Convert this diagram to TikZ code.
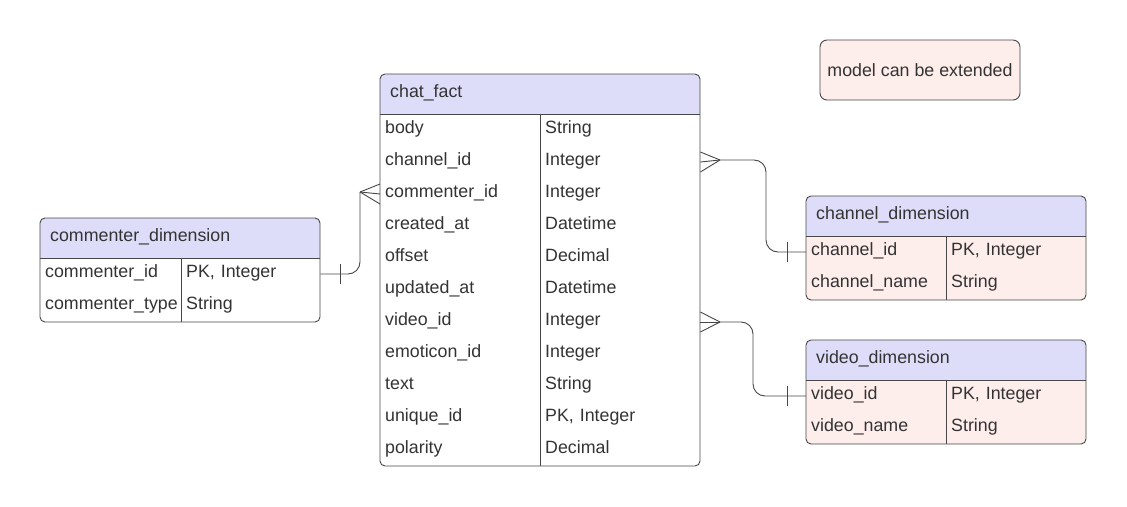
\documentclass[tikz,border=0pt]{standalone}
\usepackage{fontspec}
\setmainfont{Liberation Sans}
\definecolor{hdr}{HTML}{DDDDF9}
\definecolor{rowpink}{HTML}{FDEDEB}
\definecolor{edge}{HTML}{474747}
\definecolor{txt}{HTML}{333333}
\tikzset{
  tfont/.style={font=\fontsize{17.8}{20}\selectfont, text=txt},
  cell/.style={tfont, inner xsep=5pt, inner ysep=0pt, minimum height=32pt, text height=12pt, text depth=4.5pt, text width=#1, align=left, anchor=west},
  htext/.style={tfont, inner sep=0pt, text height=12pt, text depth=4.5pt, anchor=west},
  border/.style={draw=edge, line width=0.9pt},
  conn/.style={draw=edge, line width=0.9pt},
}
\begin{document}
\begin{tikzpicture}[x=1pt,y=-1pt]
\useasboundingbox (0,0) rectangle (1127,506);
\fill[white] (0,0) rectangle (1127,506);

% ---------- chat_fact ----------
\fill[hdr] (380,114) [rounded corners=5pt] -- (380,74) -- (700,74) [sharp corners] -- (700,114) -- cycle;
\draw[border, rounded corners=5pt] (380,74) rectangle (700,466);
\draw[border] (380,114) -- (700,114);
\draw[border] (540,114) -- (540,466);
\node[htext] (cf) at (390,94) {chat\_fact};
\foreach \i/\a/\b in {1/body/String, 2/channel\_id/Integer, 3/commenter\_id/Integer, 4/created\_at/Datetime, 5/offset/Decimal, 6/updated\_at/Datetime, 7/video\_id/Integer, 8/emoticon\_id/Integer, 9/text/String, 10/unique\_id/{PK, Integer}, 11/polarity/Decimal}{
  \node[cell=150pt] (cfl\i) at (380,{114+32*\i-16}) {\a};
  \node[cell=150pt] (cfr\i) at (540,{114+32*\i-16}) {\b};
}

% ---------- commenter_dimension ----------
\fill[hdr] (40,258) [rounded corners=5pt] -- (40,218) -- (320,218) [sharp corners] -- (320,258) -- cycle;
\draw[border, rounded corners=5pt] (40,218) rectangle (320,322);
\draw[border] (40,258) -- (320,258);
\draw[border] (181,258) -- (181,322);
\node[htext] (cd) at (50,238) {commenter\_dimension};
\node[cell=131pt] (cdl1) at (40,274) {commenter\_id};
\node[cell=129pt] (cdr1) at (181,274) {PK, Integer};
\node[cell=131pt] (cdl2) at (40,306) {commenter\_type};
\node[cell=129pt] (cdr2) at (181,306) {String};

% ---------- channel_dimension ----------
\fill[hdr] (806,236) [rounded corners=5pt] -- (806,196) -- (1086,196) [sharp corners] -- (1086,236) -- cycle;
\fill[rowpink] (806,236) [rounded corners=5pt] -- (806,300) -- (1086,300) [sharp corners] -- (1086,236) -- cycle;
\draw[border, rounded corners=5pt] (806,196) rectangle (1086,300);
\draw[border] (806,236) -- (1086,236);
\draw[border] (946,236) -- (946,300);
\node[htext] (ch) at (816,216) {channel\_dimension};
\node[cell=130pt] (chl1) at (806,252) {channel\_id};
\node[cell=130pt] (chr1) at (946,252) {PK, Integer};
\node[cell=130pt] (chl2) at (806,284) {channel\_name};
\node[cell=130pt] (chr2) at (946,284) {String};

% ---------- video_dimension ----------
\fill[hdr] (806,380) [rounded corners=5pt] -- (806,340) -- (1086,340) [sharp corners] -- (1086,380) -- cycle;
\fill[rowpink] (806,380) [rounded corners=5pt] -- (806,444) -- (1086,444) [sharp corners] -- (1086,380) -- cycle;
\draw[border, rounded corners=5pt] (806,340) rectangle (1086,444);
\draw[border] (806,380) -- (1086,380);
\draw[border] (946,380) -- (946,444);
\node[htext] (vd) at (816,360) {video\_dimension};
\node[cell=130pt] (vdl1) at (806,396) {video\_id};
\node[cell=130pt] (vdr1) at (946,396) {PK, Integer};
\node[cell=130pt] (vdl2) at (806,428) {video\_name};
\node[cell=130pt] (vdr2) at (946,428) {String};

% ---------- note ----------
\node[tfont, draw=edge, line width=0.9pt, fill=rowpink, rounded corners=7pt, minimum width=200pt, minimum height=60pt, inner sep=0pt] (note) at (920,70) {model can be extended};

% ---------- connectors ----------
% commenter_dimension -> chat_fact
\coordinate (k1) at (360,192);
\draw[conn, rounded corners=12pt] (cdr1.east) -| (k1);
\draw[conn] (k1) -- (cfl3.west);
\draw[conn] (k1) -- ([yshift=-10pt]cfl3.west);
\draw[conn] (k1) -- ([yshift=10pt]cfl3.west);
\draw[conn] (340,264) -- (340,284);

% chat_fact -> channel_dimension
\coordinate (k2) at (720,160);
\draw[conn] (k2) -- (cfr2.east);
\draw[conn] (k2) -- ([yshift=-10pt]cfr2.east);
\draw[conn] (k2) -- ([yshift=10pt]cfr2.east);
\draw[conn, rounded corners=12pt] (k2) -| (766,252) -- (chl1.west);
\draw[conn] (787,242) -- (787,262);

% chat_fact -> video_dimension
\coordinate (k3) at (720,322);
\draw[conn] (k3) -- (cfr7.east);
\draw[conn] (k3) -- ([yshift=-10pt]cfr7.east);
\draw[conn] (k3) -- ([yshift=10pt]cfr7.east);
\draw[conn, rounded corners=12pt] (k3) -| (753,396) -- (vdl1.west);
\draw[conn] (787,386) -- (787,406);
\end{tikzpicture}
\end{document}
